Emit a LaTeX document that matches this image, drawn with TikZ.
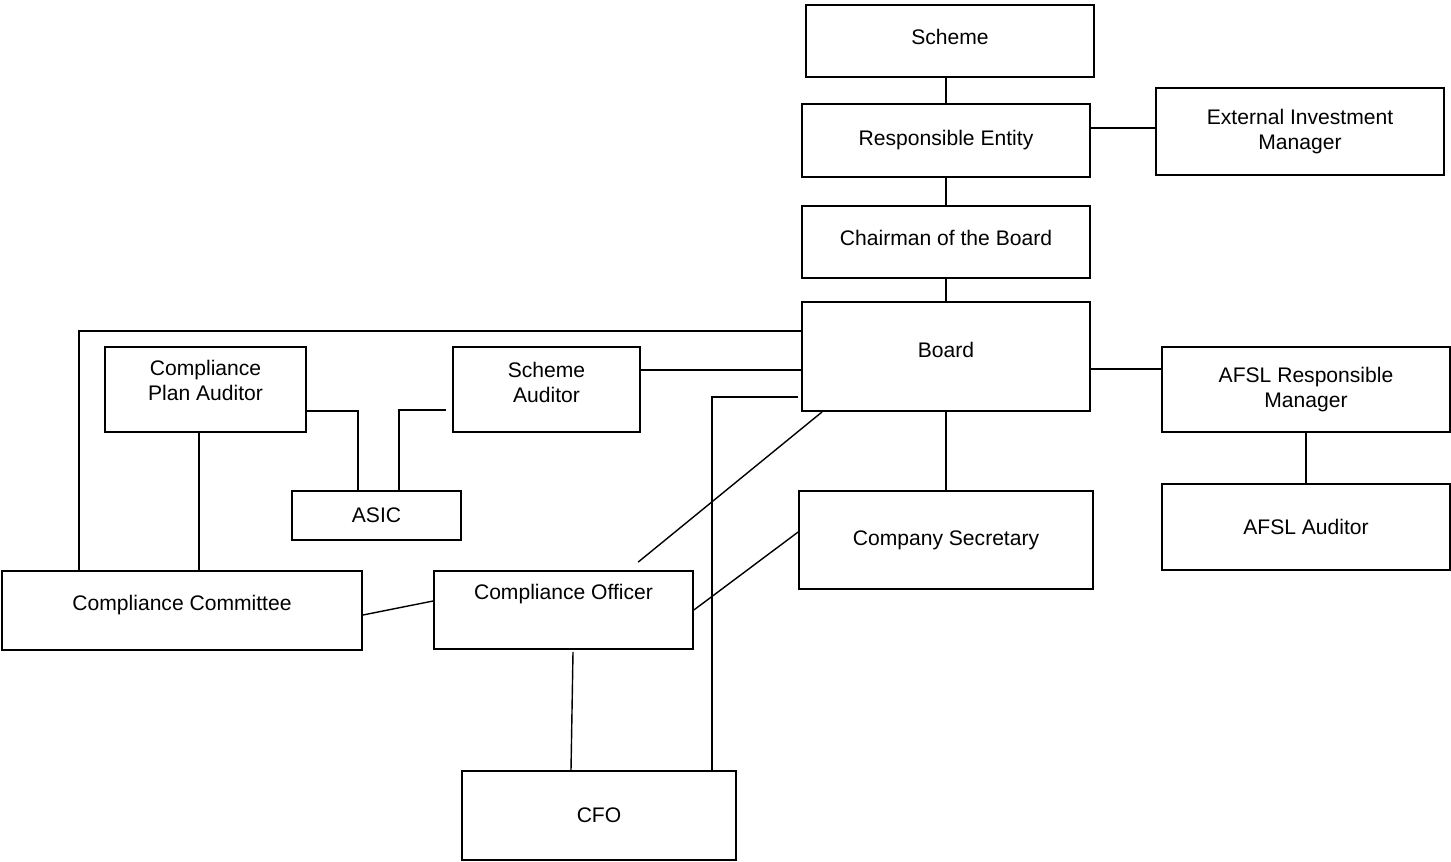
\documentclass[tikz,border=0pt]{standalone}
\usepackage{fontspec}
\setmainfont{Liberation Sans}
\usepackage{tikz}

\begin{document}
\begin{tikzpicture}[
    box/.style={draw, line width=1pt, rectangle, align=center, font=\fontsize{12}{14.2}\selectfont},
    lift/.style={text depth=#1},
    link/.style={line width=0.8pt}]
    \useasboundingbox (0,0) rectangle (29.02,-17.24);
    \node[box, lift=0.16cm, minimum width=5.76cm, minimum height=1.44cm] (scheme) at (19.0,-0.82) {Scheme};
    \node[box, minimum width=5.76cm, minimum height=1.46cm] (re) at (18.92,-2.81) {Responsible Entity};
    \node[box, minimum width=5.76cm, minimum height=1.74cm] (eim) at (26.0,-2.63) {External Investment\\Manager};
    \node[box, lift=0.16cm, minimum width=5.76cm, minimum height=1.44cm] (chair) at (18.92,-4.84) {Chairman of the Board};
    \node[box, lift=0.28cm, minimum width=5.76cm, minimum height=2.18cm] (board) at (18.92,-7.13) {Board};
    \node[box, minimum width=5.76cm, minimum height=1.70cm] (afslrm) at (26.12,-7.79) {AFSL Responsible\\Manager};
    \node[box, minimum width=5.76cm, minimum height=1.72cm] (afslaud) at (26.12,-10.54) {AFSL Auditor};
    \node[box, lift=0.37cm, minimum width=4.02cm, minimum height=1.70cm] (cpa) at (4.11,-7.79) {Compliance\\Plan Auditor};
    \node[box, lift=0.30cm, minimum width=3.74cm, minimum height=1.70cm] (sa) at (10.93,-7.79) {Scheme\\Auditor};
    \node[box, minimum width=3.38cm, minimum height=0.98cm] (asic) at (7.53,-10.31) {ASIC};
    \node[box, minimum width=5.88cm, minimum height=1.96cm] (cs) at (18.92,-10.80) {Company Secretary};
    \node[box, lift=0.29cm, minimum width=7.20cm, minimum height=1.58cm] (cc) at (3.64,-12.21) {Compliance Committee};
    \node[box, lift=0.73cm, minimum width=5.18cm, minimum height=1.56cm] (co) at (11.27,-12.20) {Compliance Officer};
    \node[box, minimum width=5.48cm, minimum height=1.78cm] (cfo) at (11.98,-16.31) {CFO};

    \draw[link] (scheme.south -| re.north) -- (re.north);
    \draw[link] ([yshift=0.25cm]re.east) coordinate (reR) -- (reR -| eim.west);
    \draw[link] (re.south) -- (chair.north);
    \draw[link] (chair.south) -- (board.north);
    \draw[link] ([yshift=-0.6cm]board.north west) -| ([xshift=1.56cm]cc.north west);
    \draw[link] ([yshift=-1.36cm]board.north east) coordinate (boardR) -- (boardR -| afslrm.west);
    \draw[link] (afslrm.south) -- (afslaud.north);
    \draw[link] ([yshift=-0.48cm]sa.north east) coordinate (saR) -- (saR -| board.west);
    \draw[link] ([xshift=-0.06cm,yshift=-1.92cm]board.north west) -| ([xshift=5.02cm]cfo.north west);
    \draw[link] ([xshift=0.42cm]board.south west) -- ([xshift=4.1cm,yshift=0.16cm]co.north west);
    \draw[link] (board.south) -- (cs.north);
    \draw[link] ([yshift=0.16cm]cs.west) -- (co.east);
    \draw[link] ([yshift=-0.09cm]cc.east) -- ([yshift=0.18cm]co.west);
    \draw[link] ([xshift=0.19cm,yshift=-0.04cm]co.south) -- ([xshift=-0.56cm]cfo.north);
    \draw[link] ([xshift=-0.13cm]cpa.south) coordinate (cpaB) -- (cpaB |- cc.north);
    \draw[link] ([yshift=-1.3cm]cpa.north east) -| ([xshift=1.34cm]asic.north west);
    \draw[link] ([xshift=-0.12cm,yshift=-1.28cm]sa.north west) -| ([xshift=2.16cm]asic.north west);
\end{tikzpicture}
\end{document}
